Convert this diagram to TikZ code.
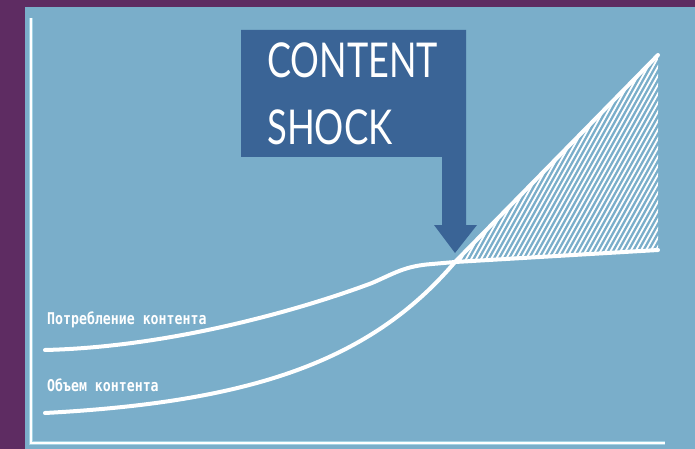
\documentclass[tikz,border=0pt]{standalone}
\usepackage{fontspec}
\setmainfont{Lato}
\newfontfamily\monof{DejaVu Sans Mono}
\definecolor{frame}{RGB}{94,44,98}
\definecolor{bgblue}{RGB}{122,174,202}
\definecolor{boxblue}{RGB}{58,100,150}
\definecolor{glow}{RGB}{190,235,245}
\tikzset{
  axisline/.style={white,line width=2pt},
  axisglow/.style={glow,line width=4pt,opacity=0.6},
  curve/.style={white,line width=4pt,line cap=round},
  hatchline/.style={white,line width=1.8pt},
  curvelabel/.style={anchor=base west,inner sep=0pt,text=white,font=\monof\bfseries\fontsize{13.5}{14}\selectfont},
  bigtext/.style={anchor=base west,inner sep=0pt,text=white,font=\fontsize{48}{50}\selectfont}
}
\begin{document}
\begin{tikzpicture}[x=1pt,y=-1pt]
\useasboundingbox (0,0) rectangle (695,449);
\fill[frame] (0,0) rectangle (695,449);
\fill[bgblue] (25,7) rectangle (695,449);
% axes
\coordinate (otop) at (31,18);
\coordinate (orig) at (31,443);
\coordinate (xend) at (665,443);
\draw[axisglow] (otop) -- (orig) -- (xend);
\draw[axisline] (otop) -- (orig) -- (xend);
% hatched region
\coordinate (cross) at (455,262);
\coordinate (apex) at (658,55);
\coordinate (brc) at (658,250);
\begin{scope}
\clip (cross) -- (apex) -- (brc) -- cycle;
\foreach \i in {0,...,70} {
  \draw[hatchline] (330+\i*5,270) -- ++(125,-225);
}
\end{scope}
% curves
\draw[curve] (45,350) .. controls (170,347) and (300,310) .. (372,283)
  .. controls (395,273) and (405,266) .. (432,264) -- (cross) -- (brc);
\draw[curve] (45,413) .. controls (250,402) and (370,362) .. (cross) -- (apex);
% callout
\fill[boxblue] (241,30) -- (466,30) -- (466,225) -- (477,225) -- (455,253)
  -- (434,225) -- (442,225) -- (442,157) -- (241,157) -- cycle;
\node[bigtext] (t1) at (267,78) {\scalebox{0.75}[1]{CONTENT}};
\node[bigtext] (t2) at (267,145) {\scalebox{0.76}[1]{SHOCK}};
% labels
\node[curvelabel] (l1) at (47,324) {\scalebox{0.98}[1.2]{Потребление контента}};
\node[curvelabel] (l2) at (47,391) {\scalebox{0.98}[1.2]{Объем контента}};
\end{tikzpicture}
\end{document}
